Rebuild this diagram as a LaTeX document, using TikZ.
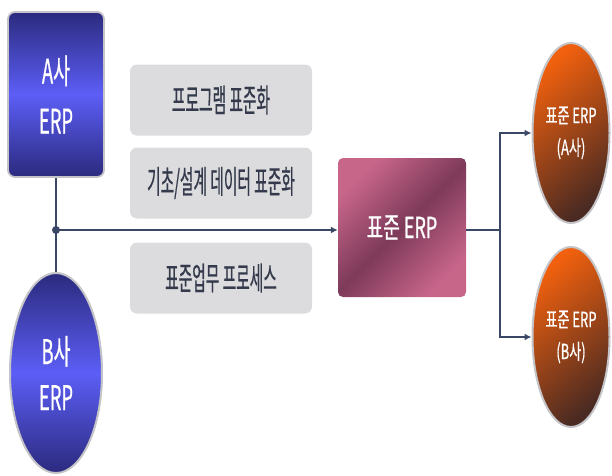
\documentclass[tikz,border=0pt]{standalone}
\usepackage{fontspec}
\usetikzlibrary{shapes.geometric,arrows.meta}
\newfontfamily\kfontA[FakeStretch=0.54,FakeBold=0.6]{Noto Sans CJK KR}
\newfontfamily\kfontG[FakeStretch=0.46,FakeBold=0.5]{Noto Sans CJK KR}
\newfontfamily\kfontS[FakeStretch=0.62,FakeBold=0.6]{Noto Sans CJK KR}
\definecolor{linec}{HTML}{3A4866}
\definecolor{navyd}{HTML}{2B2A7E}
\definecolor{bluem}{HTML}{5C5EF6}
\definecolor{graybx}{HTML}{DCDCDE}
\definecolor{graytx}{HTML}{343A4C}
\definecolor{pinkl}{HTML}{C8668A}
\definecolor{pinkd}{HTML}{7E3A5A}
\definecolor{orng}{HTML}{F0600E}
\definecolor{brownd}{HTML}{4A2A22}
\definecolor{rimc}{HTML}{C4C4C8}
\tikzset{
  conn/.style={draw=linec, line width=2.6pt},
  arr/.style={conn, -{Latex[length=7pt,width=7pt]}},
  srcbox/.style={rectangle, rounded corners=7pt, draw=rimc, line width=1.8pt,
    top color=navyd, bottom color=navyd, middle color=bluem,
    minimum width=96pt, minimum height=165pt, text=white,
    font=\kfontA\fontsize{34}{50}\selectfont, align=center},
  srcell/.style={ellipse, draw=rimc, line width=2pt,
    top color=navyd, bottom color=navyd, middle color=bluem,
    minimum width=92pt, minimum height=200pt, text=white, inner sep=0pt,
    font=\kfontA\fontsize{34}{46}\selectfont, align=center},
  graybox/.style={rectangle, rounded corners=7pt, fill=graybx,
    minimum width=182pt, minimum height=71pt, text=graytx,
    font=\kfontG\fontsize{32}{36}\selectfont},
  stdbox/.style={rectangle, rounded corners=5pt, shading=axis,
    top color=pinkl, bottom color=pinkl, middle color=pinkd, shading angle=45,
    minimum width=128pt, minimum height=139pt, text=white,
    font=\kfontS\fontsize{29}{34}\selectfont},
  outell/.style={ellipse, draw=rimc, line width=2pt, shading=axis,
    left color=orng, right color=brownd, shading angle=40,
    minimum width=77pt, minimum height=180pt, inner sep=0pt, text=white,
    font=\kfontS\fontsize{21}{32}\selectfont, align=center}
}
\begin{document}
\begin{tikzpicture}[x=1pt,y=-1pt]
\useasboundingbox (0,0) rectangle (612,475);
% nodes
\node[srcbox] (A) at (56,94.5) {A사\\ERP};
\node[srcell] (B) at (56,373) {B사\\ERP};
\node[graybox] (g1) at (221,100) {프로그램 표준화};
\node[graybox] (g2) at (221,183) {기초/설계 데이터 표준화};
\node[graybox] (g3) at (221,278) {표준업무 프로세스};
\node[stdbox] (S) at (402,227.5) {표준 ERP};
\node[outell] (OA) at (571,133) {표준 ERP\\(A사)};
\node[outell] (OB) at (571,337) {표준 ERP\\(B사)};
\coordinate (J) at (A.south |- 0,230);
\coordinate (K) at (500,230);
% connectors
\draw[conn] (A.south) -- (J);
\draw[conn] (J) -- (B.north);
\draw[arr] (J) -- (S.west |- J);
\fill[linec] (J) circle (4pt);
\draw[conn] (S.east |- K) -- (K);
\draw[arr] (K) |- (OA.west);
\draw[arr] (K) |- (OB.west);
\end{tikzpicture}
\end{document}
